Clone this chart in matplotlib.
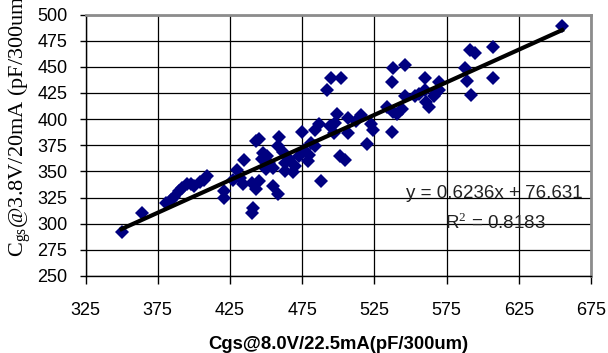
import matplotlib
matplotlib.use('Agg')
import matplotlib.pyplot as plt
import numpy as np

# Cgs @ 8.0V/22.5mA (x) vs Cgs @ 3.8V/20mA (y), pF/300um
cgs_8v = [350, 364, 381, 384, 390, 392, 395, 398, 404, 407, 409,
          421, 421, 427, 430, 435, 434, 440, 440, 441, 443, 445,
          443, 445, 448, 451, 452, 450, 455, 455, 458, 459, 458,
          462, 463, 463, 469, 470, 473, 475, 479, 480, 481, 484,
          484, 487, 488, 492, 495, 497, 498, 499, 501, 505, 502,
          507, 507, 516, 520, 523, 524, 537, 537, 538, 546, 538,
          541, 544, 546, 553, 560, 560, 561, 563, 566, 568, 570,
          570, 588, 591, 595, 589, 592, 607, 607, 655,
          386, 400, 432, 447, 466, 476, 494, 512, 534, 556]
cgs_38v = [292, 310, 320, 323, 331, 334, 338, 338, 340, 342, 346,
           325, 331, 342, 351, 361, 338, 339, 310, 315, 333, 341,
           379, 381, 368, 365, 358, 352, 353, 336, 328, 383, 374,
           369, 358, 350, 349, 355, 365, 388, 360, 366, 377, 374,
           390, 395, 341, 428, 439, 387, 396, 405, 365, 361, 439,
           401, 387, 404, 376, 395, 390, 388, 435, 449, 452, 407,
           405, 410, 422, 422, 439, 428, 416, 412, 422, 425, 428,
           435, 449, 466, 463, 436, 423, 469, 439, 489,
           326, 336, 344, 362, 362, 370, 393, 398, 412, 424]

# trendline from the chart
slope, intercept = 0.6236, 76.631
r2 = 0.8183

x_ticks = [325, 375, 425, 475, 525, 575, 625, 675]
y_ticks = [250, 275, 300, 325, 350, 375, 400, 425, 450, 475, 500]

plt.rcParams['font.family'] = ['Liberation Sans', 'DejaVu Sans']
plt.rcParams['mathtext.fontset'] = 'custom'
plt.rcParams['mathtext.rm'] = 'Liberation Serif'

W, H = 608, 353
fig = plt.figure(figsize=(W / 100, H / 100), dpi=100)
ax = fig.add_axes([85.5 / W, 1 - 276 / H, (591 - 85.5) / W, (276 - 14.5) / H])

ax.plot(cgs_8v, cgs_38v, 'D', color='#000080', markersize=6.7,
        markeredgewidth=0, zorder=3)

# linear trendline over the data range
xs = np.array([min(cgs_8v), max(cgs_8v)])
ax.plot(xs, slope * xs + intercept, color='black', linewidth=3.0, zorder=4)

ax.set_xlim(325, 675)
ax.set_ylim(250, 500)
ax.set_xticks(x_ticks)
ax.set_yticks(y_ticks)
ax.tick_params(axis='both', labelsize=13, color='black', width=1)
ax.tick_params(axis='x', direction='out', length=6, pad=13)
ax.tick_params(axis='y', direction='out', length=4, pad=9)
ax.grid(True, color='black', linewidth=0.9, zorder=1)
ax.set_axisbelow(True)

for side in ['top', 'right']:
    ax.spines[side].set_color('#8c8c8c')
    ax.spines[side].set_linewidth(2)
for side in ['left', 'bottom']:
    ax.spines[side].set_color('black')
    ax.spines[side].set_linewidth(1)

fig.text(583 / W, 1 - 193 / H, f'y = {slope}x + {intercept}',
         fontsize=13.5, ha='right', va='center', color='#222222')
fig.text(495 / W, 1 - 223 / H, f'R$^{{2}}$ = {r2}', fontsize=13.5,
         ha='center', va='center', color='#222222')

ax.set_xlabel('Cgs@8.0V/22.5mA(pF/300um)', fontsize=13.3, fontweight='bold')
ax.xaxis.set_label_coords(0.5, -(336 - 276) / (276 - 14.5))

fig.text(20 / W, 1 - 257 / H, 'C$_{\\mathregular{gs}}$@3.8V/20mA (pF/300um)',
         rotation=90, ha='center', va='bottom', fontsize=16,
         family='Liberation Serif')

fig.savefig('out.png', dpi=100)
